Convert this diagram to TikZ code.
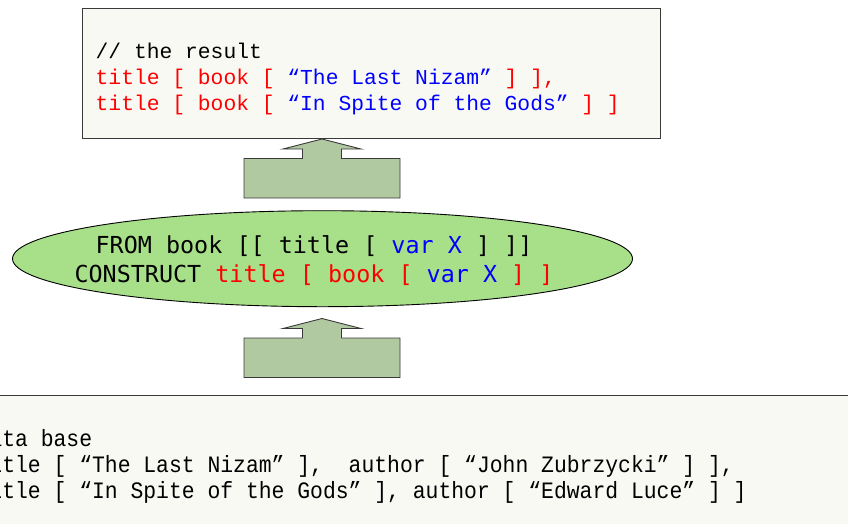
\documentclass[tikz,border=0pt]{standalone}
\usepackage{fontspec}
\newfontfamily\topmono{Liberation Mono}
\newfontfamily\condmono[FakeStretch=0.91]{Liberation Mono}
\newfontfamily\ellmono{DejaVu Sans Mono}
\usetikzlibrary{shapes.geometric}
\definecolor{paper}{HTML}{F9F9F4}
\definecolor{arrowfill}{HTML}{B1C9A0}
\definecolor{ellfill}{HTML}{A8E08A}
\definecolor{edge}{HTML}{3A3A3A}
\definecolor{qred}{HTML}{FF0000}
\definecolor{qblue}{HTML}{0000FF}
\tikzset{
  panel/.style={draw=edge, fill=paper, line width=1pt, inner sep=0pt, anchor=north west},
  blockarrow/.style={draw=edge, fill=arrowfill, line width=0.9pt, line join=miter},
  resline/.style={anchor=base west, inner sep=0pt, font=\topmono\fontsize{21.3}{25}\selectfont},
  dbline/.style={anchor=base west, inner sep=0pt, font=\condmono\fontsize{23.5}{26}\selectfont},
  qline/.style={anchor=base, inner sep=0pt, font=\ellmono\fontsize{23.4}{29}\selectfont},
  blockup/.pic={
    \draw[blockarrow] (0,0) -- (39,10) -- (19.5,10) -- (19.5,19.5) -- (78,19.5) -- (78,59)
      -- (-78,59) -- (-78,19.5) -- (-19.5,19.5) -- (-19.5,10) -- (-39,10) -- cycle;
  }
}
\begin{document}
\begin{tikzpicture}[x=1pt,y=-1pt]
\useasboundingbox (0,0) rectangle (848,523);
\clip (0,0) rectangle (848,523);
\fill[white] (0,0) rectangle (848,523);

% result box
\node[panel, minimum width=578pt, minimum height=130pt] (result) at (82,8) {};
\node[resline] (r1) at (95.5,58) {// the result};
\node[resline, text=qred] (r2) at (95.5,84) {title [ book [ \textcolor{qblue}{“The Last Nizam”} ] ],};
\node[resline, text=qred] (r3) at (95.5,110) {title [ book [ \textcolor{qblue}{“In Spite of the Gods”} ] ]};

% arrow from query to result
\coordinate (tipA) at (322,139);
\pic at (tipA) {blockup};

% query ellipse
\node[ellipse, draw=black, fill=ellfill, line width=0.9pt, minimum width=620pt, minimum height=96pt, inner sep=0pt] (query) at (322.5,258.7) {};
\node[qline] (q1) at (314,253.3) {FROM book [[ title [ \textcolor{qblue}{var X} ] ]]};
\node[qline] (q2) at (314,282.7) {CONSTRUCT \textcolor{qred}{title [ book [} \textcolor{qblue}{var X} \textcolor{qred}{] ]}};

% arrow from data base to query
\coordinate (tipB) at (322,318.5);
\pic at (tipB) {blockup};

% data base box
\node[panel, minimum width=900pt, minimum height=200pt] (db) at (-20,395) {};
\node[dbline] (d1) at (-113.4,446.7) {// the data base};
\node[dbline] (d2) at (-113.4,472.7) {book [ title [ “The Last Nizam” ], \ author [ “John Zubrzycki” ] ],};
\node[dbline] (d3) at (-113.4,498.7) {book [ title [ “In Spite of the Gods” ], author [ “Edward Luce” ] ]};
\end{tikzpicture}
\end{document}
